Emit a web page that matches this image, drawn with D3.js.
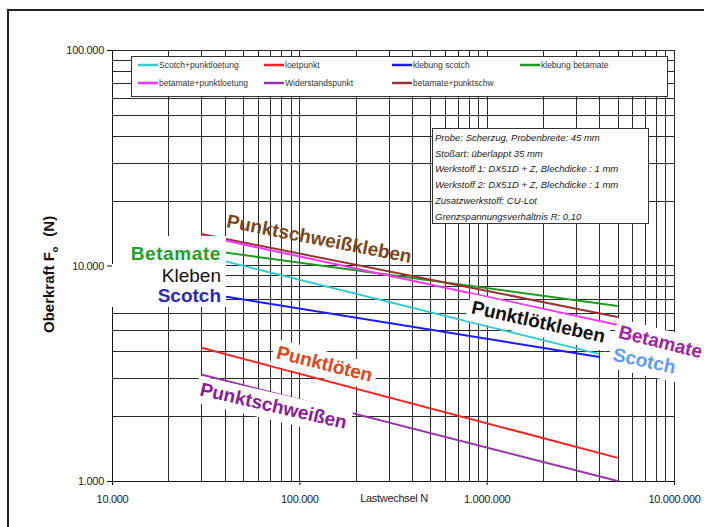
<!DOCTYPE html>
<html lang="de">
<head>
<meta charset="UTF-8"/>
<title>Wöhlerlinien Fügeverfahren</title>
<script src="https://d3js.org/d3.v7.min.js"></script>
<style>
    body { margin: 0; background: #fff; }
    svg { display: block; font-family: "Liberation Sans", Arial, sans-serif; }
</style>
</head>
<body>
<div id="chart"></div>
<script>
    // Lastwechsel (start / end of each line)
    var cycles = [30000, 5000000];
    var cyclesShort = [30000, 4000000];

    // Oberkraft F0 in N at start / end
    var scotchPunktloetung = [11140, 3880];
    var loetpunkt = [4150, 1280];
    var klebungScotch = [7480, 3760];
    var klebungBetamate = [11900, 6490];
    var betamatePunktloetung = [13800, 5300];
    var widerstandspunkt = [3120, 1000];
    var betamatePunktschw = [14000, 5770];

    var seriesNames = ["Scotch+punktloetung", "loetpunkt", "klebung scotch", "klebung betamate",
                       "betamate+punktloetung", "Widerstandspunkt", "betamate+punktschw"];
    var seriesColors = ["#33cccc", "#ff2222", "#1a1aff", "#1f9a1f", "#ff33ff", "#9933aa", "#993333"];
    var seriesValues = [scotchPunktloetung, loetpunkt, klebungScotch, klebungBetamate,
                        betamatePunktloetung, widerstandspunkt, betamatePunktschw];
    var seriesCycles = [cyclesShort, cycles, cyclesShort, cycles, cycles, cycles, cycles];
    // drawing order: brown under magenta, like the original
    var drawOrder = [0, 1, 2, 3, 6, 4, 5];

    var xTicks = [10000, 100000, 1000000, 10000000];
    var yTicks = [1000, 10000, 100000];

    var infoLines = [
        "Probe: Scherzug, Probenbreite: 45 mm",
        "Stoßart: überlappt 35 mm",
        "Werkstoff 1: DX51D + Z, Blechdicke : 1 mm",
        "Werkstoff 2: DX51D + Z, Blechdicke : 1 mm",
        "Zusatzwerkstoff: CU-Lot",
        "Grenzspannungsverhältnis R: 0,10"
    ];

    var width = 704, height = 527;
    var plotLeft = 112, plotRight = 674, plotTop = 50, plotBottom = 481;

    var svg = d3.select("#chart").append("svg")
        .attr("width", width)
        .attr("height", height);

    // outer frame
    svg.append("rect")
        .attr("x", 8).attr("y", 10)
        .attr("width", 760).attr("height", 600)
        .attr("fill", "#fff")
        .attr("stroke", "#222")
        .attr("stroke-width", 2);

    var x = d3.scaleLog().domain([1e4, 1e7]).range([plotLeft, plotRight]);
    var y = d3.scaleLog().domain([1e3, 1e5]).range([plotBottom, plotTop]);

    var de = d3.formatLocale({ decimal: ",", thousands: ".", grouping: [3], currency: ["", " €"] });
    var fmt = de.format(",d");

    // grid lines (every 1..9 per decade)
    var xGrid = [], yGrid = [];
    [1e4, 1e5, 1e6].forEach(function(d) { for (var k = 1; k < 10; k++) xGrid.push(k * d); });
    xGrid.push(1e7);
    [1e3, 1e4].forEach(function(d) { for (var k = 1; k < 10; k++) yGrid.push(k * d); });
    yGrid.push(1e5);

    var grid = svg.append("g").attr("stroke", "#2a2a2a").attr("stroke-width", 1);
    grid.selectAll("line.v")
        .data(xGrid)
        .enter()
        .append("line")
        .attr("class", "v")
        .attr("x1", function(d) { return Math.round(x(d)) + 0.5; })
        .attr("x2", function(d) { return Math.round(x(d)) + 0.5; })
        .attr("y1", plotTop)
        .attr("y2", plotBottom);
    grid.selectAll("line.h")
        .data(yGrid)
        .enter()
        .append("line")
        .attr("class", "h")
        .attr("x1", plotLeft)
        .attr("x2", plotRight)
        .attr("y1", function(d) { return Math.round(y(d)) + 0.5; })
        .attr("y2", function(d) { return Math.round(y(d)) + 0.5; });

    // axes
    var xAxis = d3.axisBottom(x).tickValues(xTicks).tickFormat(fmt).tickSize(4).tickPadding(10);
    var gx = svg.append("g")
        .attr("transform", "translate(0," + plotBottom + ")")
        .call(xAxis);
    var yAxis = d3.axisLeft(y).tickValues(yTicks).tickFormat(fmt).tickSize(5).tickPadding(3);
    var gy = svg.append("g")
        .attr("transform", "translate(" + plotLeft + ",0)")
        .call(yAxis);
    [gx, gy].forEach(function(g) {
        g.selectAll("text").attr("font-size", "11px").attr("fill", "#222")
            .attr("font-family", "Liberation Sans, Arial, sans-serif").attr("letter-spacing", "-0.3px");
        g.selectAll("path, line").attr("stroke", "#111");
    });

    // data lines
    var line = d3.line()
        .x(function(d) { return x(d[0]); })
        .y(function(d) { return y(d[1]); });
    svg.append("g").selectAll("path")
        .data(drawOrder.map(function(i) {
            return { color: seriesColors[i],
                     pts: seriesValues[i].map(function(f, j) { return [seriesCycles[i][j], f]; }) };
        }))
        .enter()
        .append("path")
        .attr("d", function(d) { return line(d.pts); })
        .attr("fill", "none")
        .attr("stroke", function(d) { return d.color; })
        .attr("stroke-width", 2);

    // white boxes behind left labels
    svg.append("rect").attr("x", 124).attr("y", 236).attr("width", 102).attr("height", 28).attr("fill", "#fff");
    svg.append("rect").attr("x", 112).attr("y", 264).attr("width", 114).attr("height", 43).attr("fill", "#fff");

    // curve labels
    var labels = [
        { t: "Punktschweißkleben", x: 318, y: 245, a: 11, c: "#7a4518", w: "bold", box: false },
        { t: "Punktlötkleben", x: 537, y: 328, a: 12.5, c: "#111", w: "bold", box: true },
        { t: "Betamate", x: 659, y: 348, a: 14, c: "#a21fa2", w: "bold", box: true },
        { t: "Scotch", x: 643, y: 367, a: 12, c: "#5b9cf6", w: "bold", box: true },
        { t: "Punktlöten", x: 323, y: 370, a: 14, c: "#e0461a", w: "bold", box: true },
        { t: "Punktschweißen", x: 272, y: 412, a: 13, c: "#8a1a9a", w: "bold", box: true }
    ];
    labels.forEach(function(l) {
        var g = svg.append("g")
            .attr("transform", "translate(" + l.x + "," + l.y + ")rotate(" + l.a + ")");
        var bg = g.append("rect").attr("fill", "#fff");
        var t = g.append("text")
            .attr("text-anchor", "middle")
            .attr("font-size", "19px")
            .attr("font-weight", l.w)
            .attr("fill", l.c)
            .text(l.t);
        if (l.box) {
            var b = t.node().getBBox();
            bg.attr("x", b.x - 4).attr("y", b.y - 2).attr("width", b.width + 8).attr("height", b.height + 6);
        }
    });

    var leftLabels = [
        { t: "Betamate", y: 260, c: "#22a022", w: "bold" },
        { t: "Kleben", y: 282, c: "#111", w: "normal" },
        { t: "Scotch", y: 302, c: "#2a2ab8", w: "bold" }
    ];
    svg.selectAll("text.llab")
        .data(leftLabels)
        .enter()
        .append("text")
        .attr("class", "llab")
        .attr("x", 221)
        .attr("y", function(d) { return d.y; })
        .attr("text-anchor", "end")
        .attr("font-size", "19px")
        .attr("font-weight", function(d) { return d.w; })
        .attr("letter-spacing", function(d) { return d.t === "Betamate" ? "0.6px" : "0px"; })
        .attr("fill", function(d) { return d.c; })
        .text(function(d) { return d.t; });

    // legend
    var legend = svg.append("g");
    legend.append("rect")
        .attr("x", 131.5).attr("y", 56.5)
        .attr("width", 536).attr("height", 40)
        .attr("fill", "#fff").attr("stroke", "#333");
    var legCols = [138, 264, 392, 520];
    var legItems = legend.selectAll("g")
        .data(seriesNames)
        .enter()
        .append("g")
        .attr("transform", function(d, i) {
            return "translate(" + legCols[i % 4] + "," + (i < 4 ? 65 : 83) + ")";
        });
    legItems.append("line")
        .attr("x1", 0).attr("x2", 20)
        .attr("stroke", function(d, i) { return seriesColors[i]; })
        .attr("stroke-width", 2.5);
    legItems.append("text")
        .attr("x", 21).attr("y", 3)
        .attr("font-size", "8.5px")
        .attr("fill", "#333")
        .text(function(d) { return d; });

    // info box
    svg.append("rect")
        .attr("x", 432.5).attr("y", 128.5)
        .attr("width", 216).attr("height", 95)
        .attr("fill", "#fff").attr("stroke", "#333");
    svg.selectAll("text.info")
        .data(infoLines)
        .enter()
        .append("text")
        .attr("class", "info")
        .attr("x", 435)
        .attr("y", function(d, i) { return 141 + i * 15.7; })
        .attr("font-size", "9.5px")
        .attr("font-style", "italic")
        .attr("fill", "#222")
        .text(function(d) { return d; });

    // axis titles
    svg.append("text")
        .attr("x", 394).attr("y", 502)
        .attr("text-anchor", "middle")
        .attr("font-size", "11px")
        .attr("letter-spacing", "-0.3px")
        .attr("fill", "#222")
        .text("Lastwechsel N");

    var yt = svg.append("text")
        .attr("transform", "translate(54,333)rotate(-90)")
        .attr("font-size", "15px")
        .attr("font-weight", "bold")
        .attr("fill", "#111");
    yt.append("tspan").text("Oberkraft F");
    yt.append("tspan").attr("font-size", "9px").attr("dy", 4).text("o");
    yt.append("tspan").attr("dy", -4).attr("dx", 10).text("(N)");
</script>
</body>
</html>
